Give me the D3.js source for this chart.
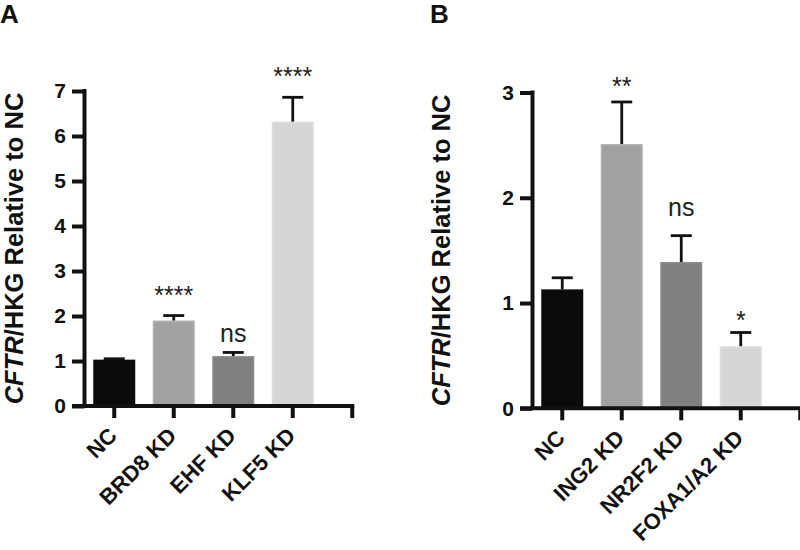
<!DOCTYPE html>
<html>
<head>
<meta charset="utf-8">
<script src="https://cdn.jsdelivr.net/npm/d3@7"></script>
<style>
  html, body { margin: 0; padding: 0; background: #fff; }
  svg { display: block; }
  text { font-family: "Liberation Sans", Arial, Helvetica, sans-serif; fill: #111; }
</style>
</head>
<body>
<svg id="chart" width="800" height="550"></svg>
<script>
// ---------- data ----------
const categoriesA = ["NC", "BRD8 KD", "EHF KD", "KLF5 KD"];
const meansA = [1.03, 1.90, 1.11, 6.32];
const errorsA = [0.02, 0.11, 0.08, 0.54];
const signifA = ["", "****", "ns", "****"];
const yTicksA = [0, 1, 2, 3, 4, 5, 6, 7];

const categoriesB = ["NC", "ING2 KD", "NR2F2 KD", "FOXA1/A2 KD"];
const meansB = [1.13, 2.51, 1.39, 0.59];
const errorsB = [0.11, 0.40, 0.25, 0.13];
const signifB = ["", "**", "ns", "*"];
const yTicksB = [0, 1, 2, 3];

// ---------- styles / layout ----------
const barFill = ["#0b0b0b", "#a1a1a3", "#7f807f", "#d5d6d6"];
const barEdge = ["#0b0b0b", "#b2b2b3", "#8c8d8c", "#dcdddd"];
const AXW = 4;
const TICK = 12.5;

const svg = d3.select("#chart");

function panel(opts) {
  const { letter, letterX, axisX, y0, yTop, yMax, cats, means, errs, sig, ticks, sigOffsets, titleX } = opts;
  const step = 59.5;
  const g = svg.append("g");

  const x = d3.scaleBand()
    .domain(cats)
    .range([axisX, axisX + step * cats.length])
    .paddingInner(0.294)
    .paddingOuter(0.147);

  const y = d3.scaleLinear().domain([0, yMax]).range([y0, yTop]);

  // bars
  g.selectAll("rect.bar")
    .data(cats)
    .join("rect")
    .attr("class", "bar")
    .attr("x", d => x(d) + 0.75)
    .attr("width", x.bandwidth() - 1.5)
    .attr("y", (d, i) => y(means[i]) + 0.75)
    .attr("height", (d, i) => y0 - y(means[i]) - 0.75)
    .attr("fill", (d, i) => barFill[i])
    .attr("stroke", (d, i) => barEdge[i])
    .attr("stroke-width", 1.5);

  // error bars (upper only)
  const eb = g.selectAll("g.err").data(cats).join("g").attr("class", "err");
  eb.append("line")
    .attr("x1", d => x(d) + x.bandwidth() / 2)
    .attr("x2", d => x(d) + x.bandwidth() / 2)
    .attr("y1", (d, i) => y(means[i]))
    .attr("y2", (d, i) => y(means[i] + errs[i]))
    .attr("stroke", "#111").attr("stroke-width", 2.8);
  eb.append("line")
    .attr("x1", d => x(d) + x.bandwidth() / 2 - 10.5)
    .attr("x2", d => x(d) + x.bandwidth() / 2 + 10.5)
    .attr("y1", (d, i) => y(means[i] + errs[i]))
    .attr("y2", (d, i) => y(means[i] + errs[i]))
    .attr("stroke", "#111").attr("stroke-width", 2.8);

  // significance labels
  g.selectAll("text.sig")
    .data(cats)
    .join("text")
    .attr("class", "sig")
    .attr("x", d => x(d) + x.bandwidth() / 2)
    .attr("y", (d, i) => y(means[i] + errs[i]) - sigOffsets[i])
    .attr("text-anchor", "middle")
    .style("font-size", "25px")
    .style("fill", "#222")
    .text((d, i) => sig[i]);

  // y axis
  const yAxis = g.append("g")
    .attr("transform", `translate(${axisX},0)`)
    .call(d3.axisLeft(y).tickValues(ticks).tickFormat(d3.format("d")).tickSize(TICK).tickPadding(6).tickSizeOuter(0));
  yAxis.select(".domain").attr("stroke", "#111").attr("stroke-width", AXW)
    .attr("d", `M0,${y0}V${yTop - AXW / 2}`);
  yAxis.selectAll(".tick line").attr("stroke", "#111").attr("stroke-width", AXW);
  yAxis.selectAll(".tick text").style("font-size", "21px").style("font-weight", "bold").style("fill", "#111");

  // x axis
  const endPos = axisX + step * cats.length + step / 2;
  const xAxis = g.append("g").attr("transform", `translate(0,${y0})`);
  xAxis.append("line")
    .attr("x1", axisX - TICK).attr("x2", endPos + 2)
    .attr("y1", 0).attr("y2", 0)
    .attr("stroke", "#111").attr("stroke-width", AXW);
  const tickXs = cats.map(c => x(c) + x.bandwidth() / 2).concat([endPos]);
  xAxis.selectAll("line.xt")
    .data(tickXs)
    .join("line")
    .attr("class", "xt")
    .attr("x1", d => d).attr("x2", d => d)
    .attr("y1", 0).attr("y2", 12)
    .attr("stroke", "#111").attr("stroke-width", AXW);
  xAxis.selectAll("text.xl")
    .data(cats)
    .join("text")
    .attr("class", "xl")
    .attr("text-anchor", "end")
    .attr("transform", d => `translate(${x(d) + x.bandwidth() / 2 + 4},${31}) rotate(-45)`)
    .style("font-size", "22px")
    .style("font-weight", "bold")
    .text(d => d);

  // y title
  const t = g.append("text")
    .attr("transform", `translate(${titleX},${(y0 + yTop) / 2}) rotate(-90)`)
    .attr("text-anchor", "middle")
    .style("font-size", "25.5px")
    .style("font-weight", "bold");
  t.append("tspan").style("font-style", "italic").text("CFTR");
  t.append("tspan").text("/HKG Relative to NC");

  // panel letter
  g.append("text")
    .attr("x", letterX).attr("y", 23)
    .style("font-size", "26px").style("font-weight", "bold")
    .text(letter);
}

panel({
  letter: "A", letterX: 0, axisX: 84.5, y0: 406, yTop: 91, yMax: 7,
  cats: categoriesA, means: meansA, errs: errorsA, sig: signifA, ticks: yTicksA,
  sigOffsets: [0, 12, 10, 12], titleX: 23
});

panel({
  letter: "B", letterX: 430, axisX: 532.5, y0: 408.3, yTop: 92.5, yMax: 3,
  cats: categoriesB, means: meansB, errs: errorsB, sig: signifB, ticks: yTicksB,
  sigOffsets: [0, 7, 20, 4], titleX: 450
});
</script>
</body>
</html>
